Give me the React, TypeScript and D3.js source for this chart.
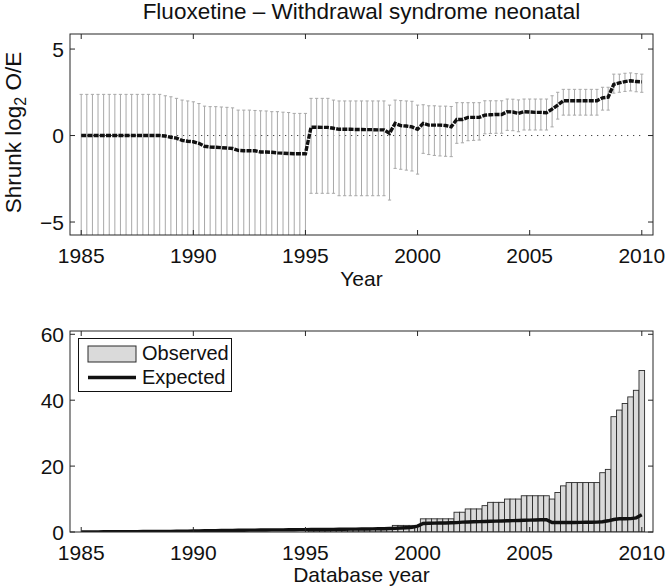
import React from "react";
import * as d3 from "d3";

// ---- Data (quarterly, 1985.00 .. 2010.00) ----
const startYear = 1985;
const step = 0.25;

const estimate = [
  0, 0, 0, 0,
  0, 0, 0, 0,
  0, 0, 0, 0,
  0, 0, 0, -0.03,
  -0.1, -0.15, -0.28, -0.33,
  -0.36, -0.45, -0.62, -0.66,
  -0.68, -0.7, -0.72, -0.75,
  -0.86, -0.88, -0.88, -0.88,
  -0.95, -0.95, -0.97, -1.0,
  -1.02, -1.04, -1.05, -1.05,
  -1.05, 0.49, 0.48, 0.47,
  0.47, 0.42, 0.36, 0.36,
  0.36, 0.35, 0.35, 0.34,
  0.34, 0.33, 0.33, 0.13,
  0.7, 0.57, 0.55, 0.5,
  0.36, 0.7, 0.6, 0.6,
  0.6, 0.58, 0.5, 0.93,
  0.93, 1.05, 1.05, 1.05,
  1.18, 1.2, 1.22, 1.22,
  1.38, 1.36, 1.28, 1.38,
  1.36, 1.34, 1.34, 1.32,
  1.53, 1.76, 2.01, 2.01,
  2.01, 2.01, 2.01, 2.01,
  2.01, 2.18, 2.22, 2.96,
  3.05, 3.12, 3.17, 3.12,
  3.1,
];

const upper = [
  2.38, 2.38, 2.38, 2.38,
  2.38, 2.38, 2.38, 2.38,
  2.38, 2.38, 2.38, 2.38,
  2.38, 2.38, 2.38, 2.3,
  2.24, 2.15, 2.05, 2.0,
  1.95, 1.85, 1.7, 1.67,
  1.67, 1.65, 1.63, 1.6,
  1.47, 1.47, 1.47, 1.45,
  1.43, 1.42, 1.38, 1.38,
  1.35, 1.33, 1.28, 1.28,
  1.28, 2.15, 2.15, 2.15,
  2.15, 2.05, 2.0, 2.0,
  2.0, 2.0, 2.0, 2.0,
  2.0, 2.0, 2.0, 1.76,
  2.05, 2.02, 2.0, 1.98,
  1.76, 1.78, 1.72, 1.72,
  1.7, 1.7, 1.68, 1.9,
  1.9, 1.9, 1.9, 1.9,
  2.01, 2.01, 2.01, 2.01,
  2.11, 2.1, 2.06, 2.11,
  2.11, 2.11, 2.11, 2.11,
  2.3, 2.5, 2.67, 2.67,
  2.67, 2.67, 2.67, 2.67,
  2.67, 2.79, 2.79, 3.55,
  3.55, 3.6, 3.62, 3.58,
  3.55,
];

const lower = [
  -8, -8, -8, -8,
  -8, -8, -8, -8,
  -8, -8, -8, -8,
  -8, -8, -8, -8,
  -8, -8, -8, -8,
  -8, -8, -8, -8,
  -8, -8, -8, -8,
  -8, -8, -8, -8,
  -8, -8, -8, -8,
  -8, -8, -8, -8,
  -8, -3.34, -3.34, -3.34,
  -3.34, -3.34, -3.48, -3.48,
  -3.48, -3.48, -3.48, -3.48,
  -3.48, -3.48, -3.48, -3.73,
  -1.9, -1.95, -2.0, -2.05,
  -2.23, -1.03, -1.1, -1.15,
  -1.18, -1.2, -1.22, -0.45,
  -0.42, -0.3, -0.28, -0.26,
  0.1, 0.12, 0.13, 0.13,
  0.3, 0.28, 0.22, 0.32,
  0.32, 0.32, 0.32, 0.32,
  0.5, 0.95, 1.18, 1.18,
  1.18, 1.18, 1.18, 1.18,
  1.18, 1.47, 1.47, 2.45,
  2.5, 2.55, 2.58, 2.53,
  2.5,
];

const observed = [
  0, 0, 0, 0,
  0, 0, 0, 0,
  0, 0, 0, 0,
  0, 0, 0, 0,
  0, 0, 0, 0,
  0, 0, 0, 0,
  0, 0, 0, 0,
  0, 0, 0, 0,
  0, 0, 0, 0,
  0, 0, 0, 0,
  0, 1, 1, 1,
  1, 1, 1, 1,
  1, 1, 1, 1,
  1, 1, 1, 1,
  2, 2, 2, 2,
  2, 4, 4, 4,
  4, 4, 4, 6,
  6, 7, 7, 7,
  8, 9, 9, 9,
  10, 10, 10, 11,
  11, 11, 11, 11,
  10, 12, 14, 15,
  15, 15, 15, 15,
  15, 18, 19, 35,
  37, 39, 41, 43,
  49,
];

const expected = [
  0.02, 0.03, 0.04, 0.05,
  0.06, 0.07, 0.08, 0.09,
  0.1, 0.11, 0.12, 0.13,
  0.14, 0.15, 0.17, 0.19,
  0.2, 0.22, 0.25, 0.28,
  0.3, 0.33, 0.36, 0.39,
  0.42, 0.45, 0.48, 0.5,
  0.52, 0.54, 0.56, 0.58,
  0.6, 0.62, 0.63, 0.65,
  0.66, 0.68, 0.7, 0.71,
  0.72, 0.74, 0.75, 0.77,
  0.78, 0.8, 0.82, 0.84,
  0.86, 0.88, 0.9, 0.92,
  0.95, 0.98, 1.0, 1.05,
  1.1, 1.2, 1.3, 1.4,
  1.8, 2.6, 2.65, 2.7,
  2.72, 2.75, 2.8, 2.85,
  3.0, 3.05, 3.1, 3.15,
  3.2, 3.25, 3.3, 3.35,
  3.4, 3.45, 3.5, 3.55,
  3.6, 3.65, 3.7, 3.75,
  2.9, 2.9, 2.9, 2.9,
  2.9, 2.92, 2.94, 2.96,
  3.0, 3.1, 3.4, 3.8,
  4.0, 4.0, 4.05, 4.3,
  5.2,
];

const yearTicks = [1985, 1990, 1995, 2000, 2005, 2010];
const topYTicks = [-5, 0, 5];
const bottomYTicks = [0, 20, 40, 60];

const titleText = "Fluoxetine \u2013 Withdrawal syndrome neonatal";

const FONT = "'Liberation Sans', Arial, Helvetica, sans-serif";

export default function App() {
  const W = 667;
  const H = 588;
  const L = 70;
  const R = 653;
  const top1 = 34, bot1 = 235;
  const top2 = 331, bot2 = 532;
  const tickLen = 5;
  const axisColor = "#262626";

  const years = estimate.map((_, i) => startYear + i * step);

  const x = d3.scaleLinear().domain([1984.5, 2010.5]).range([L, R]);
  const y1 = d3.scaleLinear().domain([-5.75, 5.87]).range([bot1, top1]);
  const y2 = d3.scaleLinear().domain([0, 61]).range([bot2, top2]);

  const estLine = d3
    .line<number>()
    .x((_, i) => x(years[i]))
    .y((d) => y1(d));
  const expLine = d3
    .line<number>()
    .x((_, i) => x(years[i]))
    .y((d) => y2(d));

  const barW = x(startYear + step) - x(startYear);
  const capW = 1.6;

  const axesBox = (t: number, b: number, yScale: any, yTicks: number[]) => (
    <g>
      <rect x={L} y={t} width={R - L} height={b - t} fill="none" stroke={axisColor} strokeWidth={1} />
      {yearTicks.map((v) => (
        <g key={"xt" + v}>
          <line x1={x(v)} x2={x(v)} y1={b} y2={b - tickLen} stroke={axisColor} />
          <line x1={x(v)} x2={x(v)} y1={t} y2={t + tickLen} stroke={axisColor} />
          <text x={x(v)} y={b + 28} textAnchor="middle" fontSize={21} fontFamily={FONT} fill="#111">
            {v}
          </text>
        </g>
      ))}
      {yTicks.map((v) => (
        <g key={"yt" + v}>
          <line x1={L} x2={L + tickLen} y1={yScale(v)} y2={yScale(v)} stroke={axisColor} />
          <line x1={R} x2={R - tickLen} y1={yScale(v)} y2={yScale(v)} stroke={axisColor} />
          <text x={64} y={yScale(v)} dy="0.36em" textAnchor="end" fontSize={21} fontFamily={FONT} fill="#111">
            {v < 0 ? "\u2212" + Math.abs(v) : v}
          </text>
        </g>
      ))}
    </g>
  );

  return (
    <svg width={W} height={H} style={{ display: "block", position: "absolute", left: 0, top: 0 }}>
      <defs>
        <clipPath id="clipTop">
          <rect x={L} y={top1} width={R - L} height={bot1 - top1} />
        </clipPath>
        <clipPath id="clipBot">
          <rect x={L} y={top2} width={R - L} height={bot2 - top2} />
        </clipPath>
      </defs>
      <rect x={0} y={0} width={W} height={H} fill="#fff" />

      {/* Title */}
      <text x={(L + R) / 2} y={19} textAnchor="middle" fontSize={22.5} fontFamily={FONT} fill="#111">
        {titleText}
      </text>

      {/* Top plot */}
      <g clipPath="url(#clipTop)">
        <line x1={x(1985)} x2={x(2010)} y1={y1(0)} y2={y1(0)} stroke="#111" strokeWidth={1} strokeDasharray="1 5" />
        {years.map((yr, i) => (
          <g key={"eb" + i} stroke="#a8a8a8" strokeWidth={1}>
            <line x1={x(yr)} x2={x(yr)} y1={y1(lower[i])} y2={y1(upper[i])} />
            <line x1={x(yr) - capW} x2={x(yr) + capW} y1={y1(upper[i])} y2={y1(upper[i])} />
            <line x1={x(yr) - capW} x2={x(yr) + capW} y1={y1(lower[i])} y2={y1(lower[i])} />
          </g>
        ))}
        <path d={estLine(estimate) || ""} fill="none" stroke="#111" strokeWidth={3.4} strokeDasharray="5 1.2" />
      </g>
      {axesBox(top1, bot1, y1, topYTicks)}
      <text x={(L + R) / 2} y={286} textAnchor="middle" fontSize={21} fontFamily={FONT} fill="#111">
        Year
      </text>
      <text
        transform={`translate(21, ${(top1 + bot1) / 2 - 2}) rotate(-90)`}
        textAnchor="middle"
        fontSize={22.5}
        fontFamily={FONT}
        fill="#111"
      >
        Shrunk log
        <tspan fontSize={16} dy={5}>2</tspan>
        <tspan dy={-5}> O/E</tspan>
      </text>

      {/* Bottom plot */}
      <g clipPath="url(#clipBot)">
        {years.map((yr, i) => (
          <rect
            key={"bar" + i}
            x={x(yr) - barW / 2}
            y={y2(observed[i])}
            width={barW}
            height={y2(0) - y2(observed[i])}
            fill="#dadada"
            stroke="#2a2a2a"
            strokeWidth={0.9}
          />
        ))}
        <path d={expLine(expected) || ""} fill="none" stroke="#111" strokeWidth={3.4} />
      </g>
      {axesBox(top2, bot2, y2, bottomYTicks)}
      <text x={(L + R) / 2} y={582} textAnchor="middle" fontSize={21} fontFamily={FONT} fill="#111">
        Database year
      </text>

      {/* Legend */}
      <g>
        <rect x={78.5} y={338.5} width={153} height={53} fill="#fff" stroke="#111" strokeWidth={1} />
        <rect x={88} y={346} width={48} height={16} fill="#dadada" stroke="#2a2a2a" strokeWidth={1} />
        <text x={142} y={360} fontSize={20} fontFamily={FONT} fill="#111">Observed</text>
        <line x1={88} x2={136} y1={377.5} y2={377.5} stroke="#111" strokeWidth={3.4} />
        <text x={142} y={384} fontSize={20} fontFamily={FONT} fill="#111">Expected</text>
      </g>
    </svg>
  );
}
